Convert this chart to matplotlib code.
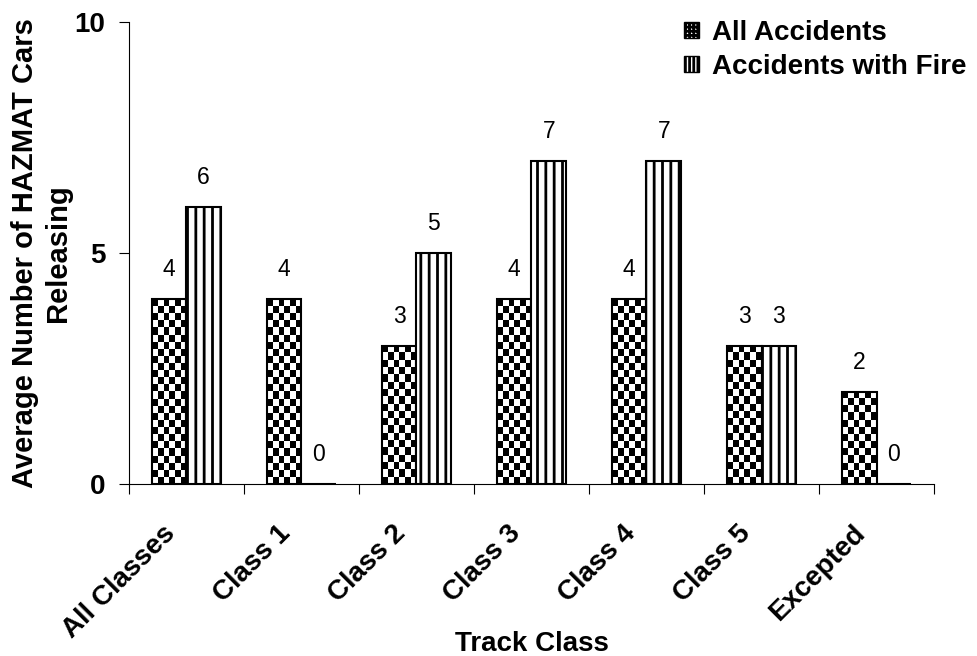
import matplotlib
matplotlib.use('Agg')
import matplotlib.pyplot as plt
from matplotlib.patches import Patch
import numpy as np

plt.rcParams['font.family'] = ['Liberation Sans', 'DejaVu Sans']
plt.rcParams['hatch.linewidth'] = 2.0

categories = ['All Classes', 'Class 1', 'Class 2', 'Class 3', 'Class 4', 'Class 5', 'Excepted']
all_accidents = [4, 4, 3, 4, 4, 3, 2]
with_fire = [6, 0, 5, 7, 7, 3, 0]
y_ticks = [0, 5, 10]

fig = plt.figure(figsize=(9.77, 6.56), dpi=100)
ax = fig.add_axes([0.132, 0.262, 0.824, 0.704])

x = np.arange(len(categories))
w = 0.3
bars1 = ax.bar(x - w / 2, all_accidents, w, facecolor='none', edgecolor='black', linewidth=1.5, zorder=3)
bars2 = ax.bar(x + w / 2, with_fire, w, facecolor='white', edgecolor='black', linewidth=1.5,
               hatch='||', zorder=3)

# checkerboard fill for the first series, clipped to each bar
for rect in bars1:
    x0, bw, h = rect.get_x(), rect.get_width(), rect.get_height()
    nx = 6
    ny = max(1, int(round(h / 0.155)))
    img = np.add.outer(np.arange(ny), np.arange(nx)) % 2
    im = ax.imshow(img, extent=[x0, x0 + bw, 0, h], cmap='gray', vmin=0, vmax=1,
                   interpolation='nearest', aspect='auto', zorder=2)
    im.set_clip_path(rect)

for bars in (bars1, bars2):
    for rect in bars:
        ax.annotate(f'{rect.get_height():g}', (rect.get_x() + rect.get_width() / 2, rect.get_height()),
                    xytext=(0, 13), textcoords='offset points', ha='center', va='bottom', fontsize=16.5)

ax.set_xlim(-0.5, len(categories) - 0.5)
ax.set_ylim(0, 10)
ax.set_yticks(y_ticks)
ax.set_yticklabels([str(t) for t in y_ticks], fontsize=20, fontweight='bold')
ax.set_xticks(np.arange(len(categories) + 1) - 0.5)
ax.set_xticklabels([])
# rotated labels end a little left of the category centre
ax.set_xticks(x - 0.21, minor=True)
ax.set_xticklabels(categories, minor=True, rotation=45, ha='right', rotation_mode='anchor',
                   fontsize=20, fontweight='bold')
ax.tick_params(axis='x', which='minor', length=0, pad=26)
ax.tick_params(axis='x', which='major', length=7, direction='out')
ax.tick_params(axis='y', length=7, direction='out', pad=10)
for s in ('top', 'right'):
    ax.spines[s].set_visible(False)

ax.set_xlabel('Track Class', fontsize=20, fontweight='bold', va='baseline')
ax.xaxis.set_label_coords(0.5, -0.362)
ax.set_ylabel('Average Number of HAZMAT Cars\nReleasing', fontsize=21, fontweight='bold', labelpad=2)

handles = [Patch(facecolor='white', edgecolor='black', hatch='++++', label='All Accidents'),
           Patch(facecolor='white', edgecolor='black', hatch='||||', label='Accidents with Fire')]
ax.legend(handles=handles, loc='upper right', bbox_to_anchor=(1.006, 0.995), bbox_transform=fig.transFigure,
          frameon=False, prop={'weight': 'bold', 'size': 20}, handlelength=0.55, handleheight=0.55,
          handletextpad=0.45, labelspacing=0.28, borderaxespad=0.2)

fig.savefig('out.png', dpi=100)
